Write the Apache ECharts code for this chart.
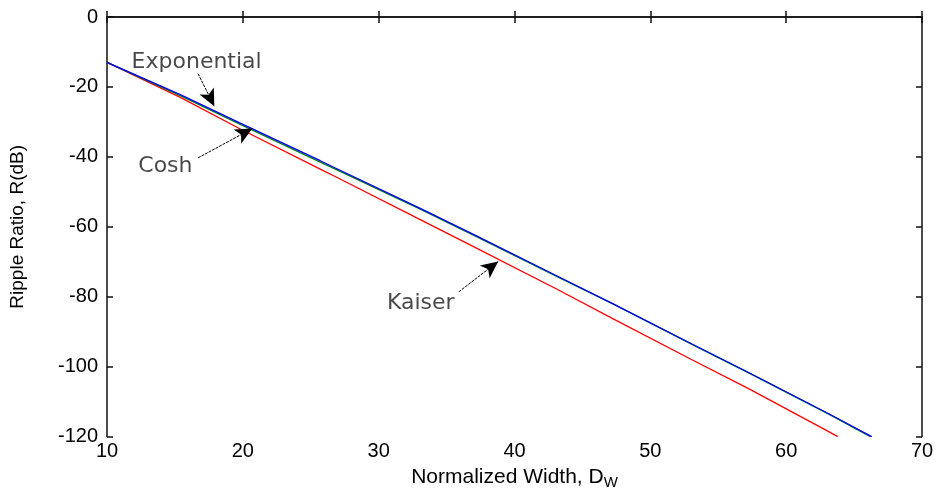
<!DOCTYPE html>
<html>
<head>
<meta charset="utf-8">
<script src="https://cdn.jsdelivr.net/npm/echarts@6/dist/echarts.min.js"></script>
<style>html,body{margin:0;padding:0;background:#fff}#c{width:940px;height:495px}</style>
</head>
<body>
<div id="c"></div>
<script>
// Exponential (blue)
const expX = [10, 15.4, 19.85, 25.7, 27.2, 33.1, 37.2, 43.1, 47.2, 53.1, 57.2, 63.1, 66.3];
const expY = [-13, -22.2, -30.4, -41.1, -43.9, -54.8, -62.6, -74.0, -81.9, -93.6, -101.6, -113.4, -120];
// Cosh (green)
const coshX = [10, 15.4, 19.85, 25.7, 27.2, 33.1, 37.2, 43.1, 47.2, 53.1, 57.2, 63.1, 66.2];
const coshY = [-13, -22.5, -30.8, -41.5, -44.2, -55.0, -62.8, -74.2, -82.0, -93.7, -101.7, -113.5, -120];
// Kaiser (red)
const kaiX = [10, 15.4, 19.85, 25.7, 27.2, 33.1, 37.2, 43.1, 47.2, 53.1, 57.2, 63.1, 63.8];
const kaiY = [-13, -23.0, -32.1, -43.5, -46.4, -58.0, -66.1, -77.8, -86.2, -98.1, -106.2, -118.5, -120];

const xTicks = [10, 20, 30, 40, 50, 60, 70];
const yTicks = [-120, -100, -80, -60, -40, -20, 0];

// annotations: label, text position, arrow start, arrow tip (data units)
const annNames = ['Exponential', 'Cosh', 'Kaiser'];
const annText = [[16.6, -12.9], [14.3, -42.8], [33.1, -82.0]];
const annFrom = [[16.7, -16.2], [16.7, -40.3], [35.9, -78.6]];
const annTo = [[17.9, -25.5], [20.7, -31.9], [38.8, -69.9]];

const zip = (a, b) => a.map((v, i) => [v, b[i]]);

const chart = echarts.init(document.getElementById('c'), null, {renderer: 'canvas'});
const FONT = 'Liberation Sans, Arial, sans-serif';
const tickFont = {fontFamily: FONT, fontSize: 20, color: '#000'};
const axLine = {show: true, lineStyle: {color: '#111', width: 1.5}};
const tick = {show: true, inside: true, length: 6, lineStyle: {color: '#111', width: 1.5}};
chart.setOption({
  animation: false,
  backgroundColor: '#fff',
  grid: {left: 106, right: 18, top: 17, bottom: 49, containLabel: false},
  xAxis: [{
    type: 'value', min: xTicks[0], max: xTicks[xTicks.length - 1], interval: 10,
    position: 'bottom',
    axisLine: axLine, axisTick: tick,
    axisLabel: Object.assign({margin: 5}, tickFont),
    splitLine: {show: false},
    name: '{a|Normalized Width, D}{s|W}',
    nameLocation: 'middle', nameGap: 25,
    nameTextStyle: {
      rich: {
        a: {fontFamily: FONT, fontSize: 21, color: '#000'},
        s: {fontFamily: FONT, fontSize: 15, color: '#000', padding: [11, 0, 0, 0]}
      }
    }
  }, {
    type: 'value', min: xTicks[0], max: xTicks[xTicks.length - 1], interval: 10,
    position: 'top',
    axisLine: axLine, axisTick: tick,
    axisLabel: {show: false}, splitLine: {show: false}
  }],
  yAxis: [{
    type: 'value', min: yTicks[0], max: yTicks[yTicks.length - 1], interval: 20,
    position: 'left',
    axisLine: axLine, axisTick: tick,
    axisLabel: Object.assign({margin: 9}, tickFont),
    splitLine: {show: false},
    name: 'Ripple Ratio, R(dB)',
    nameLocation: 'middle', nameGap: 80,
    nameTextStyle: {fontFamily: FONT, fontSize: 19, color: '#000'}
  }, {
    type: 'value', min: yTicks[0], max: yTicks[yTicks.length - 1], interval: 20,
    position: 'right',
    axisLine: axLine, axisTick: tick,
    axisLabel: {show: false}, splitLine: {show: false}
  }],
  series: [
    {name: 'Kaiser', type: 'line', data: zip(kaiX, kaiY), showSymbol: false, symbol: 'none',
     lineStyle: {color: '#ff0000', width: 1.3}, z: 2},
    {name: 'Cosh', type: 'line', data: zip(coshX, coshY), showSymbol: false, symbol: 'none',
     lineStyle: {color: '#008000', width: 1.3}, z: 3},
    {name: 'Exponential', type: 'line', data: zip(expX, expY), showSymbol: false, symbol: 'none',
     lineStyle: {color: '#0000ff', width: 1.3}, z: 4},
    {
      name: 'annotations', type: 'scatter', symbolSize: 0, z: 10, silent: true,
      data: annNames.map((n, i) => ({name: n, value: annText[i]})),
      label: {show: true, position: 'inside', formatter: '{b}',
        fontFamily: 'DejaVu Sans, Verdana, sans-serif', fontSize: 22, color: '#1a1a1a'},
      markLine: {
        silent: true, symbol: ['none', 'arrow'], symbolSize: [12, 17],
        lineStyle: {color: '#000', width: 1, type: [3, 1]},
        label: {show: false},
        data: annNames.map((n, i) => [{coord: annFrom[i]}, {coord: annTo[i]}])
      }
    }
  ]
});
</script>
</body>
</html>
